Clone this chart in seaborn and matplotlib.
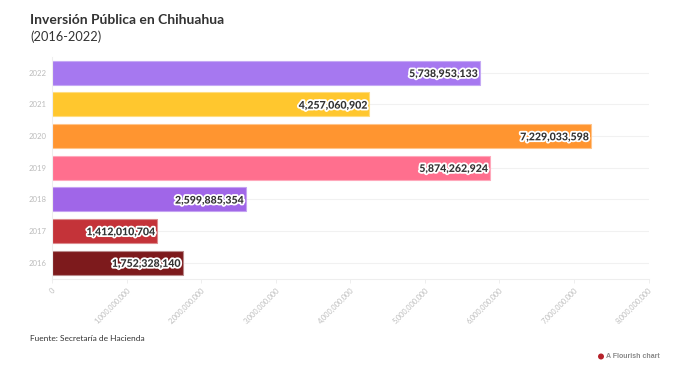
import matplotlib
matplotlib.use("Agg")
import matplotlib.pyplot as plt
import matplotlib.patheffects as pe
from matplotlib.patches import Ellipse
from matplotlib.ticker import MultipleLocator, StrMethodFormatter
import pandas as pd
import seaborn as sns

years = ["2022", "2021", "2020", "2019", "2018", "2017", "2016"]
inversion = [5738953133, 4257060902, 7229033598, 5874262924, 2599885354, 1412010704, 1752328140]
colores = ["#a678f0", "#ffc72e", "#ff9530", "#ff6f8e", "#a066e8", "#c43339", "#7d1a1c"]
bordes = ["#c5a9f5", "#ffdd80", "#ffc48a", "#ffa8bb", "#c5a3f2", "#dc8a8d", "#b98a8b"]

df = pd.DataFrame({"year": years, "inversion": inversion})

sns.set_style("white")
plt.rcParams["font.family"] = ["Lato", "DejaVu Sans"]

fig = plt.figure(figsize=(7, 3.67), dpi=100)
ax = fig.add_axes([52 / 700, 1 - 278.5 / 367, (649 - 52.5) / 700, (278.5 - 57) / 367])

sns.barplot(data=df, y="year", x="inversion", hue="year", palette=colores, saturation=1,
            order=years, hue_order=years, dodge=False, legend=False, width=0.76, ax=ax)

for patch, borde in zip(ax.patches, bordes):
    patch.set_edgecolor(borde)
    patch.set_linewidth(0.8)

# etiquetas dentro de la barra, con halo blanco
for i, valor in enumerate(inversion):
    ax.annotate(f"{valor:,}", (valor, i), xytext=(-1.5, -0.5), textcoords="offset points",
                ha="right", va="center", fontsize=7.6, fontweight="black", color="#333333",
                path_effects=[pe.withStroke(linewidth=2.6, foreground="white")], zorder=5)

ax.set_xlim(0, 8000000000)
ax.set_ylim(6.5, -0.5)
ax.xaxis.set_major_locator(MultipleLocator(1000000000))
ax.xaxis.set_major_formatter(StrMethodFormatter("{x:,.0f}"))
ax.set_xlabel("")
ax.set_ylabel("")

ax.grid(axis="y", color="#f1f1f1", linewidth=0.8)
ax.set_axisbelow(True)
sns.despine(ax=ax, top=True, right=True, left=False, bottom=False)
for lado in ["left", "bottom"]:
    ax.spines[lado].set_color("#eeeeee")
    ax.spines[lado].set_linewidth(0.8)

ax.tick_params(axis="y", length=3, width=0.7, color="#eeeeee", labelcolor="#bcbcbc", labelsize=5.6, pad=1)
ax.tick_params(axis="x", bottom=True, length=3, width=0.7, color="#eeeeee", labelcolor="#bcbcbc", labelsize=5.3, pad=3)
plt.setp(ax.get_xticklabels(), rotation=45, ha="right", va="top", rotation_mode="anchor")

fig.text(30 / 700, 1 - 20.5 / 367, "Inversión Pública en Chihuahua", fontsize=10, fontweight="bold",
         color="#333333", va="center", ha="left")
fig.text(30 / 700, 1 - 37 / 367, "(2016-2022)", fontsize=9.2, color="#333333", va="center", ha="left")
fig.text(30 / 700, 1 - 338.5 / 367, "Fuente: Secretaría de Hacienda", fontsize=6, color="#333333",
         va="center", ha="left")

fig.add_artist(Ellipse((601 / 700, 1 - 356.5 / 367), 6 / 700, 6 / 367, transform=fig.transFigure,
                       facecolor="#b5222a", edgecolor="none"))
fig.text(606 / 700, 1 - 356.5 / 367, "A Flourish chart", fontsize=5, fontweight="bold", color="#888888",
         family="Liberation Sans", va="center", ha="left")

fig.savefig("out.png", dpi=100)
